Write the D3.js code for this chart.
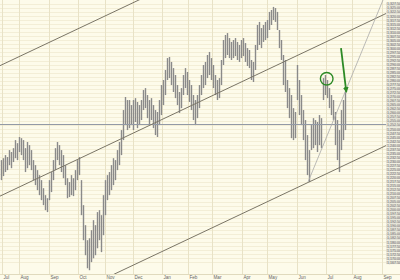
<!DOCTYPE html>
<html><head><meta charset="utf-8">
<script src="https://cdn.jsdelivr.net/npm/d3@7"></script>
<style>html,body{margin:0;padding:0;background:#fcfae8;} svg{display:block}</style>
</head><body><svg id="c" width="400" height="280"></svg>
<script>
// ---- data ----
const highs = [1230.8,1232.0,1233.9,1232.7,1237.0,1235.8,1238.2,1243.2,1241.3,1245.1,1244.4,1243.2,1238.2,1242.0,1240.1,1237.0,1230.8,1227.7,1224.6,1221.5,
1218.4,1213.4,1209.1,1207.2,1218.4,1223.4,1230.8,1238.2,1242.0,1240.1,1237.0,1233.9,1227.7,1219.6,1217.2,1221.5,1219.6,1224.6,1230.8,1232.7,
1218.4,1202.9,1190.5,1181.2,1182.4,1187.4,1193.6,1190.5,1198.6,1199.8,1196.7,1209.1,1218.4,1221.5,1223.4,1227.7,1232.0,1230.8,1237.0,1242.0,
1249.4,1261.8,1269.9,1268.0,1268.0,1264.9,1268.0,1269.2,1266.8,1264.9,1268.0,1274.2,1275.4,1271.1,1268.0,1269.2,1264.9,1261.8,1260.6,1268.0,
1277.3,1280.4,1286.6,1294.0,1294.7,1291.6,1287.8,1283.5,1277.3,1273.0,1275.4,1283.5,1287.8,1285.4,1280.4,1277.3,1271.1,1268.0,1271.1,1277.3,
1283.5,1289.7,1291.6,1295.9,1297.8,1294.0,1289.7,1283.5,1280.4,1281.6,1292.8,1305.2,1308.3,1309.5,1306.4,1304.0,1305.2,1306.4,1304.0,1302.1,
1305.2,1306.4,1303.3,1300.2,1299.0,1292.8,1291.6,1302.1,1314.5,1316.4,1312.6,1314.5,1316.4,1317.6,1322.6,1323.8,1325.7,1325.0,1322.6,1311.4,
1305.2,1295.9,1292.8,1280.4,1275.4,1271.1,1263.0,1260.6,1289.7,1280.4,1271.1,1261.8,1255.6,1246.3,1237.0,1252.5,1256.8,1255.6,1254.4,1258.7,
1256.8,1281.6,1283.5,1280.4,1275.4,1271.1,1268.0,1260.6,1255.6,1249.4,1261.8,1268.0,1273.0];
const lows = [1218.4,1220.9,1223.4,1224.6,1227.7,1225.8,1229.6,1232.0,1230.8,1235.8,1233.9,1230.8,1223.4,1225.8,1227.7,1224.6,1218.4,1215.3,1212.2,1209.1,
1206.0,1202.9,1199.8,1198.6,1206.0,1211.0,1218.4,1224.6,1230.8,1227.7,1223.4,1219.6,1215.3,1207.2,1207.9,1209.1,1208.5,1212.2,1218.4,1221.5,
1196.7,1181.2,1171.9,1163.8,1162.6,1167.6,1170.0,1171.9,1176.2,1181.2,1173.8,1184.3,1196.7,1206.0,1209.1,1212.2,1215.3,1218.4,1224.6,1227.7,
1233.9,1243.2,1252.5,1249.4,1250.6,1252.5,1249.4,1254.4,1250.6,1252.5,1255.6,1261.8,1263.0,1256.8,1252.5,1255.6,1250.6,1246.3,1245.1,1252.5,
1258.7,1264.9,1271.1,1280.4,1281.6,1277.3,1273.0,1269.2,1264.9,1260.0,1263.0,1271.1,1275.4,1271.1,1266.8,1261.8,1255.6,1252.5,1256.8,1263.0,
1271.1,1275.4,1277.3,1281.6,1283.5,1280.4,1275.4,1271.1,1268.0,1269.2,1277.3,1289.7,1294.0,1295.9,1294.0,1292.8,1294.0,1295.3,1292.8,1291.6,
1294.0,1295.3,1291.6,1289.1,1287.8,1280.4,1279.2,1286.6,1299.0,1302.1,1300.2,1304.0,1305.2,1306.4,1311.4,1314.5,1317.6,1316.4,1311.4,1300.2,
1292.8,1277.3,1273.0,1263.0,1256.8,1244.4,1243.2,1244.4,1268.0,1258.7,1252.5,1243.2,1230.8,1221.5,1217.2,1237.0,1238.2,1240.1,1235.8,1240.1,
1238.2,1268.0,1271.1,1269.2,1263.0,1258.7,1255.6,1240.1,1230.8,1223.4,1237.0,1243.2,1249.4];
const months = ["Jul","Aug","Sep","Oct","Nov","Dec","Jan","Feb","Mar","Apr","May","Jun","Jul","Aug","Sep"];
const monthIdx = [0.5,9,24,38.5,52,66,80.5,93.5,105.5,120.5,133,148,162.5,175.5,190.5];
const priceTicks = d3.range(1327.5, 1167.4, -2.5);
const channelUpper = [[-0.5,1289.3],[192.5,1402.4]];
const channelMid   = [[-0.5,1208.5],[192.5,1321.6]];
const channelLow   = [[-0.5,1126.7],[192.5,1239.8]];
const steepLine    = [[153.5,1217.2],[192.5,1334.5]];
const hLevel = 1253.1;
const circleAt = [162.85,1281.2];
const arrowLine = [[170,1300.2],[172.65,1273.1]];

// ---- drawing ----
const W=400,H=280,plotR=386,plotB=274;
const svg = d3.select("#c");
const x = d3.scaleLinear().domain([-0.5,195.5]).range([0,392]);
const y = d3.scaleLinear().domain([1167.5,1327.5]).range([262.3,4]);

svg.append("rect").attr("width",W).attr("height",H).attr("fill","#fdfbea");
svg.append("defs").append("clipPath").attr("id","pc").append("rect")
  .attr("x",0).attr("y",0).attr("width",plotR).attr("height",plotB);

// horizontal grid
svg.append("g").selectAll("line").data(priceTicks).join("line")
  .attr("x1",0).attr("x2",plotR)
  .attr("y1",d=>Math.round(y(d))+0.5).attr("y2",d=>Math.round(y(d))+0.5)
  .attr("stroke","#f3eed6").attr("stroke-width",1);
// vertical month grid
svg.append("g").selectAll("line").data(monthIdx).join("line")
  .attr("x1",d=>Math.round(x(d))+0.5).attr("x2",d=>Math.round(x(d))+0.5)
  .attr("y1",0).attr("y2",plotB)
  .attr("stroke","#e8e2c6").attr("stroke-width",1);
// bottom axis line
svg.append("line").attr("x1",0).attr("x2",W).attr("y1",plotB+0.5).attr("y2",plotB+0.5)
  .attr("stroke","#e0dabd");

const plot = svg.append("g").attr("clip-path","url(#pc)");
// price bars
plot.append("g").selectAll("line").data(highs).join("line")
  .attr("x1",(d,i)=>x(i)+0.5).attr("x2",(d,i)=>x(i)+0.5)
  .attr("y1",d=>y(d)).attr("y2",(d,i)=>y(lows[i]))
  .attr("stroke","#8a8a8a").attr("stroke-width",1.4);

const line = d3.line().x(d=>x(d[0])).y(d=>y(d[1]));
// horizontal level
plot.append("line").attr("x1",0).attr("x2",plotR)
  .attr("y1",Math.round(y(hLevel))+0.5).attr("y2",Math.round(y(hLevel))+0.5)
  .attr("stroke","#939aa6").attr("stroke-width",1);
[channelUpper,channelMid,channelLow].forEach(c=>{
  plot.append("path").attr("d",line(c)).attr("fill","none")
    .attr("stroke","#7a7566").attr("stroke-width",1);
});
plot.append("path").attr("d",line(steepLine)).attr("fill","none")
  .attr("stroke","#a9a9a9").attr("stroke-width",0.8);

// annotations
const green="#2d8a26";
svg.append("circle").attr("cx",x(circleAt[0])).attr("cy",y(circleAt[1])).attr("r",6.3)
  .attr("fill","none").attr("stroke",green).attr("stroke-width",1.4);
svg.append("defs").append("marker").attr("id","ah").attr("viewBox","0 0 10 10")
  .attr("refX",8).attr("refY",5).attr("markerWidth",3.2).attr("markerHeight",3.2)
  .attr("orient","auto").append("path").attr("d","M0,0L10,5L0,10z").attr("fill",green);
svg.append("path").attr("d",line(arrowLine)).attr("stroke",green).attr("stroke-width",1.8)
  .attr("fill","none").attr("marker-end","url(#ah)");

// right price labels
const rl = svg.append("g");
rl.selectAll("rect").data(priceTicks).join("rect")
  .attr("x",386).attr("width",14).attr("y",d=>y(d)-1.6).attr("height",3.4)
  .attr("fill","#dedcd2");
rl.selectAll("text").data(priceTicks).join("text")
  .attr("x",387).attr("y",d=>y(d)+1.4)
  .attr("font-family","Liberation Sans, Arial, sans-serif").attr("font-size",3.6)
  .attr("fill","#6a6a6a").text(d3.format(",.2f"));

// month labels
svg.append("g").selectAll("text").data(months).join("text")
  .attr("x",(d,i)=>x(monthIdx[i])+1.5).attr("y",279)
  .attr("font-family","Liberation Sans, Arial, sans-serif").attr("font-size",4.6)
  .attr("fill","#666").text(d=>d);
</script></body></html>
